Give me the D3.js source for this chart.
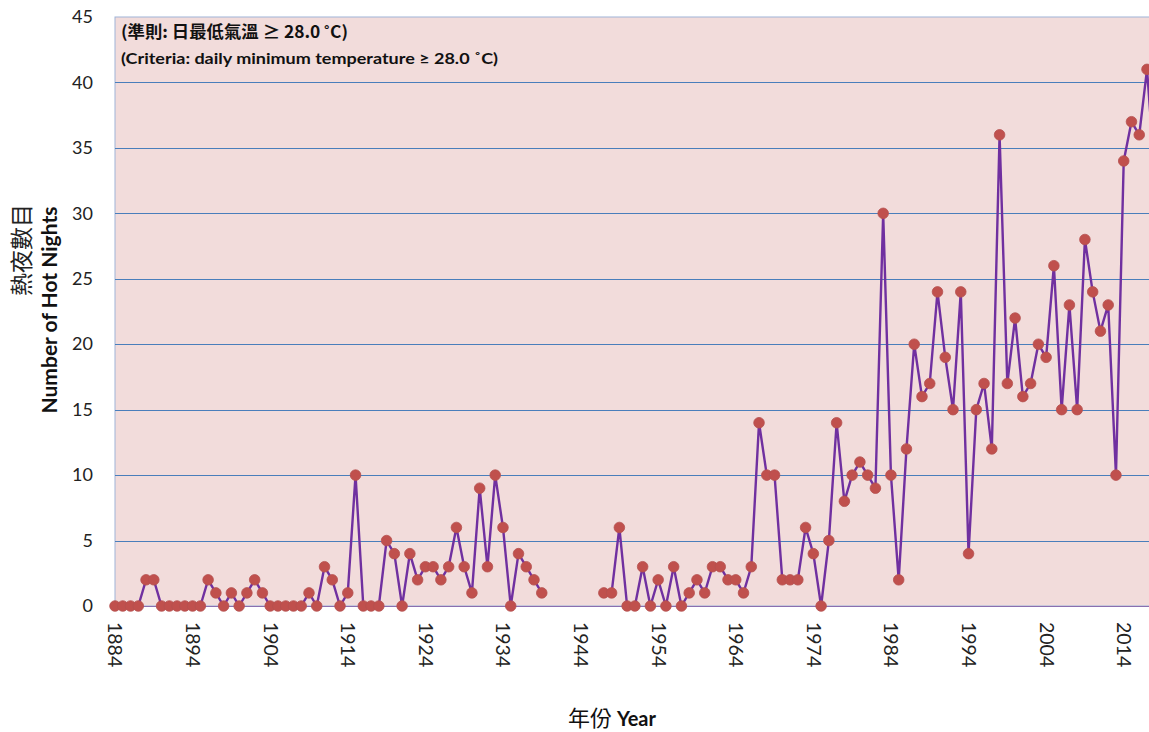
<!DOCTYPE html>
<html>
<head>
<meta charset="utf-8">
<script src="https://cdn.jsdelivr.net/npm/d3@7"></script>
<style>
  html, body { margin: 0; padding: 0; background: #ffffff; }
  svg { display: block; }
</style>
</head>
<body>
<svg id="chart" width="1149" height="732"></svg>
<script>
// Annual number of hot nights (daily minimum temperature >= 28.0 °C)
const firstYear = 1884;
const lastYear = 2018;
// One value per year from 1884; null marks the years with no record (1940-1946)
const hotNights = [
  0, 0, 0, 0, 2, 2, 0, 0, 0, 0,        // 1884-1893
  0, 0, 2, 1, 0, 1, 0, 1, 2, 1,        // 1894-1903
  0, 0, 0, 0, 0, 1, 0, 3, 2, 0,        // 1904-1913
  1, 10, 0, 0, 0, 5, 4, 0, 4, 2,       // 1914-1923
  3, 3, 2, 3, 6, 3, 1, 9, 3, 10,       // 1924-1933
  6, 0, 4, 3, 2, 1,                    // 1934-1939
  null, null, null, null, null, null, null, // 1940-1946
  1, 1, 6, 0, 0, 3, 0,                 // 1947-1953
  2, 0, 3, 0, 1, 2, 1, 3, 3, 2,        // 1954-1963
  2, 1, 3, 14, 10, 10, 2, 2, 2, 6,     // 1964-1973
  4, 0, 5, 14, 8, 10, 11, 10, 9, 30,   // 1974-1983
  10, 2, 12, 20, 16, 17, 24, 19, 15, 24, // 1984-1993
  4, 15, 17, 12, 36, 17, 22, 16, 17, 20, // 1994-2003
  19, 26, 15, 23, 15, 28, 24, 21, 23, 10, // 2004-2013
  34, 37, 36, 41, 33                   // 2014-2018
];
const yTicks = [0, 5, 10, 15, 20, 25, 30, 35, 40, 45];
const xTicks = [1884, 1894, 1904, 1914, 1924, 1934, 1944, 1954, 1964, 1974, 1984, 1994, 2004, 2014];
const noteLines = ["(準則: 日最低氣溫 ≥ 28.0 ˚C)", "(Criteria: daily minimum temperature ≥ 28.0 ˚C)"];
const yTitleZh = "熱夜數目";
const yTitleEn = "Number of Hot Nights";
const xTitleZh = "年份";
const xTitleEn = "Year";

const years = d3.range(firstYear, lastYear + 1);
const series = years.map((yr, i) => ({ year: yr, value: hotNights[i] }));

const svg = d3.select("#chart");
const W = 1149;

const plotLeft = 115, plotTop = 17, plotBottom = 606;
const x = d3.scaleLinear().domain([1884, 2017]).range([plotLeft, 1147]);
const y = d3.scaleLinear().domain([0, 45]).range([plotBottom, plotTop]);
const plotRight = x(2019);

const latin = "Lato, 'Open Sans', sans-serif";
const cjk = "'Noto Sans CJK TC', 'Noto Sans CJK SC', sans-serif";

// plot background
svg.append("rect")
  .attr("x", plotLeft).attr("y", plotTop)
  .attr("width", plotRight - plotLeft).attr("height", plotBottom - plotTop)
  .attr("fill", "#f2dcdb")
  .attr("stroke", "#9fb4d8").attr("stroke-width", 1);

// horizontal gridlines
svg.append("g")
  .selectAll("line")
  .data(yTicks.filter(v => v > 0 && v < 45))
  .join("line")
  .attr("x1", plotLeft).attr("x2", plotRight)
  .attr("y1", d => Math.round(y(d)) + 0.5).attr("y2", d => Math.round(y(d)) + 0.5)
  .attr("stroke", "#4a7ebb").attr("stroke-width", 1.1);

// y axis labels
const yAxis = svg.append("g")
  .attr("transform", `translate(${plotLeft - 22},0)`)
  .call(d3.axisLeft(y).tickValues(yTicks).tickSize(0).tickPadding(0));
yAxis.select(".domain").remove();
yAxis.selectAll("text")
  .attr("font-family", latin).attr("font-size", 18).attr("fill", "#222");

// x axis line and rotated year labels
svg.append("line")
  .attr("x1", plotLeft).attr("x2", plotRight)
  .attr("y1", plotBottom + 0.5).attr("y2", plotBottom + 0.5)
  .attr("stroke", "#8a6fb0").attr("stroke-width", 1.2);

const xAxis = svg.append("g")
  .attr("transform", `translate(0,${plotBottom})`)
  .call(d3.axisBottom(x).tickValues(xTicks).tickFormat(d3.format("d")).tickSize(0));
xAxis.select(".domain").remove();
xAxis.selectAll("text")
  .attr("font-family", latin).attr("font-size", 19.5).attr("fill", "#222")
  .attr("text-anchor", "start")
  .attr("y", 0).attr("dy", "0.36em")
  .attr("transform", "translate(0,16) rotate(90)");

// data line (gap where there is no record)
const line = d3.line()
  .defined(d => d.value !== null)
  .x(d => x(d.year)).y(d => y(d.value));

svg.append("clipPath").attr("id", "plotClip")
  .append("rect").attr("x", 0).attr("y", 0).attr("width", W).attr("height", 732);

const marks = svg.append("g").attr("clip-path", "url(#plotClip)");
marks.append("path")
  .datum(series)
  .attr("fill", "none")
  .attr("stroke", "#7030a0").attr("stroke-width", 2.4)
  .attr("stroke-linejoin", "round")
  .attr("d", line);

marks.append("g")
  .selectAll("circle")
  .data(series.filter(d => d.value !== null))
  .join("circle")
  .attr("cx", d => x(d.year)).attr("cy", d => y(d.value))
  .attr("r", 5.3)
  .attr("fill", "#c0504d")
  .attr("stroke", "#b5504f").attr("stroke-width", 0.8);

// criteria note inside the plot
svg.append("text")
  .attr("x", 121).attr("y", 38)
  .attr("font-family", cjk).attr("font-weight", "bold").attr("font-size", 16.5)
  .attr("textLength", 227).attr("lengthAdjust", "spacingAndGlyphs")
  .attr("fill", "#111")
  .text(noteLines[0]);
svg.append("text")
  .attr("x", 121).attr("y", 64)
  .attr("font-family", latin).attr("font-weight", "bold").attr("font-size", 16)
  .attr("textLength", 377).attr("lengthAdjust", "spacingAndGlyphs")
  .attr("fill", "#111")
  .text(noteLines[1]);

// y axis titles
svg.append("text")
  .attr("transform", "translate(30,250) rotate(-90)")
  .attr("text-anchor", "middle")
  .attr("font-family", cjk).attr("font-size", 23).attr("fill", "#222")
  .text(yTitleZh);
svg.append("text")
  .attr("transform", "translate(57,310) rotate(-90)")
  .attr("text-anchor", "middle")
  .attr("font-family", latin).attr("font-weight", "bold").attr("font-size", 21).attr("fill", "#111")
  .text(yTitleEn);

// x axis title
const xt = svg.append("text")
  .attr("x", 612).attr("y", 726)
  .attr("text-anchor", "middle")
  .attr("fill", "#111");
xt.append("tspan").attr("font-family", cjk).attr("font-size", 22).text(xTitleZh + " ");
xt.append("tspan").attr("font-family", latin).attr("font-weight", "bold").attr("font-size", 20).text(xTitleEn);
</script>
</body>
</html>
